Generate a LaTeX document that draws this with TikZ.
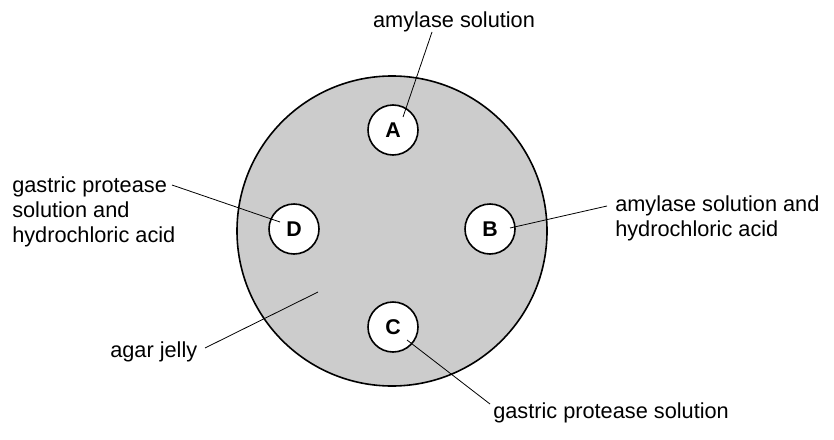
\documentclass[tikz,border=0pt]{standalone}
\usepackage{fontspec}
\setmainfont{Liberation Sans}
\begin{document}
\begin{tikzpicture}[x=0.75pt,y=-0.75pt,
  well/.style={circle,draw,line width=1.2pt,fill=white,minimum size=37.5pt,inner sep=0pt,font=\fontsize{16}{18}\selectfont\bfseries},
  lbl/.style={font=\fontsize{16.3}{18.5}\selectfont,inner sep=0pt,align=left},
  ln/.style={line width=0.6pt}]
\useasboundingbox (0,0) rectangle (834,439);
\node[circle,draw,line width=1.2pt,fill=black!20,minimum size=232.5pt,inner sep=0pt] (dish) at (392,231) {};
\node[well] (A) at (393,130) {A};
\node[well] (B) at (490,229) {B};
\node[well] (C) at (393,327) {C};
\node[well] (D) at (294,229) {D};
\node[lbl,anchor=base] (la) at (454,27) {amylase solution};
\node[lbl,anchor=base west] (lb) at (615,236) {amylase solution and\\hydrochloric acid};
\node[lbl,anchor=base west] (ld) at (12,242) {gastric protease\\solution and\\hydrochloric acid};
\node[lbl,anchor=base west] (lj) at (110,357) {agar jelly};
\node[lbl,anchor=base west] (lc) at (493,418) {gastric protease solution};
\coordinate (pa) at (432,32);   \coordinate (ea) at (403,117);
\coordinate (pb) at (607,206);  \coordinate (eb) at (510,228);
\coordinate (pd) at (172,185);  \coordinate (ed) at (280,222);
\coordinate (pj) at (205,348);  \coordinate (pj2) at (318,292);
\coordinate (pc) at (490,404);  \coordinate (ec) at (407,340);
\draw[ln] (pa) -- (ea);
\draw[ln] (pb) -- (eb);
\draw[ln] (pd) -- (ed);
\draw[ln] (pj) -- (pj2);
\draw[ln] (pc) -- (ec);
\end{tikzpicture}
\end{document}
